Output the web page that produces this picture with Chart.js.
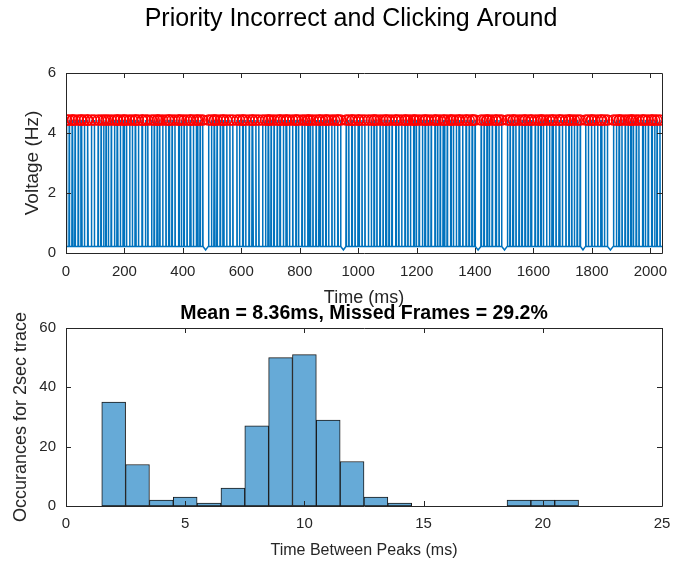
<!DOCTYPE html>
<html>
<head>
<meta charset="utf-8">
<script src="https://cdn.jsdelivr.net/npm/chart.js@4.4.1/dist/chart.umd.min.js"></script>
<style>
  body { margin: 0; background: #fff; }
  #wrap { position: relative; width: 674px; height: 568px; overflow: hidden; }
  canvas { position: absolute; left: 0; }
</style>
</head>
<body>
<div id="wrap">
  <canvas id="trace" width="702" height="310" style="top:0"></canvas>
  <canvas id="hist" width="728" height="278" style="top:290px"></canvas>
</div>
<script>
// peak-to-peak intervals (ms)
const firstPeak = 2;
const peakIntervals = [
    9,10,2,8,11,9,3,9,10,2,12,10, 13,
    10,9,8,8,10,11,9,2,9,10,3,8,11,9,10,2,9,12,2,10,8, 13,
    9,10,2,7,10,11,9,3,9,10,12,2,8,9,10,11,2,9,10,5,8,9, 20,
    10,9,2,8,11,9,3,10,11,10, 14,
    9,10,2,9,12,10,3,10,10, 13,
    10,9,2,8,10,11,9,2,10,9,3,9,11,10,2,8,12,9,10,2,7,9,11,10,4,9,10,2,8,11,9,10,2,9, 19,
    9,10,2,9,11,3,10,10, 12,
    10,9,2,8,11,10,9,3,9,10,12,2,9,10,11,2,8,9,10,3,7,10,11,9,2,9,10,12,2,8,9,10,5,9,11,2,8,10,9,3,10,11,2,9,10,2,8, 21,
    10,9,2,7,10,11,3,9,9, 20,
    9,10,2,8,11,10,9,2,10,9,3,12,10,9,2,7,11,10,9,3,10,11,2,9,12,10,2,8,9,10,10, 19,
    9,10,2,9,11,10,4,9,10, 21,
    10,9,2,8,11,10,9,3,6,10,9,12,2,8,10,11,2,9,8,10
];
const peakVoltage = 4.43;
const baseVoltage = 0.22;
const dipVoltage = 0.1;
const traceEnd = 2040;

const xTicksTop = [0, 200, 400, 600, 800, 1000, 1200, 1400, 1600, 1800, 2000];

// histogram
const binCenters = [2, 3, 4, 5, 6, 7, 8, 9, 10, 11, 12, 13, 14, 19, 20, 21];
const binCounts  = [35, 14, 2, 3, 1, 6, 27, 50, 51, 29, 15, 3, 1, 2, 2, 2];

const FONT = "'Liberation Sans', Arial, Helvetica, sans-serif";
const AXIS = '#262626';

// peak times + voltage trace
let peakTimes = [firstPeak];
for (let i = 0; i < peakIntervals.length; i++) {
    peakTimes.push(peakTimes[i] + peakIntervals[i]);
}
let trace = [{x: 0, y: baseVoltage}];
for (let i = 0; i < peakTimes.length; i++) {
    const t = peakTimes[i];
    trace.push({x: t - 1, y: baseVoltage});
    trace.push({x: t, y: peakVoltage});
    trace.push({x: t + 1, y: baseVoltage});
    const gap = peakIntervals[i];
    if (gap >= 15) trace.push({x: t + gap / 2, y: dipVoltage});
}
trace.push({x: traceEnd, y: baseVoltage});
const peaks = peakTimes.map(t => ({x: t, y: peakVoltage}));

// matlab style box with inward ticks
const boxPlugin = {
    id: 'box',
    afterDraw(chart) {
        const {ctx, chartArea: a, scales} = chart;
        const len = 5;
        ctx.save();
        ctx.strokeStyle = AXIS;
        ctx.lineWidth = 1;
        ctx.beginPath();
        ctx.rect(Math.round(a.left) + 0.5, Math.round(a.top) + 0.5,
                 Math.round(a.right - a.left), Math.round(a.bottom - a.top));
        scales.x.ticks.forEach(t => {
            const px = Math.round(scales.x.getPixelForValue(t.value)) + 0.5;
            ctx.moveTo(px, a.bottom); ctx.lineTo(px, a.bottom - len);
            ctx.moveTo(px, a.top); ctx.lineTo(px, a.top + len);
        });
        scales.y.ticks.forEach(t => {
            const py = Math.round(scales.y.getPixelForValue(t.value)) + 0.5;
            ctx.moveTo(a.left, py); ctx.lineTo(a.left + len, py);
            ctx.moveTo(a.right, py); ctx.lineTo(a.right - len, py);
        });
        ctx.stroke();
        ctx.restore();
    }
};

function dummyRight(w) {
    return {
        type: 'linear', position: 'right', display: true,
        ticks: {display: false}, grid: {display: false, drawTicks: false}, border: {display: false},
        afterFit: s => { s.width = w; }
    };
}

const noGrid = {display: false, drawTicks: false};

new Chart(document.getElementById('trace'), {
    type: 'line',
    data: {
        datasets: [{
            type: 'scatter',
            data: peaks,
            showLine: false,
            pointStyle: 'circle',
            pointRadius: 5,
            pointBorderColor: '#ff0000',
            pointBackgroundColor: 'rgba(0,0,0,0)',
            pointBorderWidth: 1.5,
            order: 0
        }, {
            data: trace,
            borderColor: '#0072BD',
            borderWidth: 1.5,
            pointRadius: 0,
            tension: 0,
            order: 1
        }]
    },
    options: {
        responsive: false,
        animation: false,
        layout: {padding: 0},
        plugins: {
            legend: {display: false},
            tooltip: {enabled: false},
            title: {
                display: true,
                text: 'Priority Incorrect and Clicking Around',
                color: '#000',
                font: {family: FONT, size: 25, weight: 'normal'},
                padding: {top: 4, bottom: 39}
            }
        },
        scales: {
            x: {
                type: 'linear', min: 0, max: traceEnd,
                afterBuildTicks: s => { s.ticks = xTicksTop.map(v => ({value: v})); },
                ticks: {font: {family: FONT, size: 15}, color: AXIS, padding: 10, maxRotation: 0, autoSkip: false,
                        callback: v => String(v)},
                grid: noGrid, border: {display: false},
                title: {display: true, text: 'Time (ms)', color: AXIS, font: {family: FONT, size: 18}, padding: {top: 0, bottom: 1.2}},
                afterFit: s => { s.height = 57; }
            },
            y: {
                type: 'linear', min: 0, max: 6,
                ticks: {stepSize: 2, font: {family: FONT, size: 15}, color: AXIS, padding: 10},
                grid: noGrid, border: {display: false},
                title: {display: true, text: 'Voltage (Hz)', color: AXIS, font: {family: FONT, size: 19}, padding: {top: 21.6, bottom: 0}},
                afterFit: s => { s.width = 66; }
            },
            yr: dummyRight(40)
        }
    },
    plugins: [boxPlugin]
});

new Chart(document.getElementById('hist'), {
    type: 'bar',
    data: {
        datasets: [{
            data: binCenters.map((c, i) => ({x: c, y: binCounts[i]})),
            backgroundColor: '#66AAD7',
            borderColor: '#1a1a1a',
            borderWidth: 1,
            borderSkipped: false,
            barPercentage: 1,
            categoryPercentage: 1
        }]
    },
    options: {
        responsive: false,
        animation: false,
        layout: {padding: 0},
        plugins: {
            legend: {display: false},
            tooltip: {enabled: false},
            title: {
                display: true,
                text: 'Mean = 8.36ms, Missed Frames = 29.2%',
                color: '#000',
                font: {family: FONT, size: 19.5, weight: 'bold'},
                padding: {top: 12, bottom: 2.6}
            }
        },
        scales: {
            x: {
                type: 'linear', min: 0, max: 25, offset: false,
                ticks: {stepSize: 5, font: {family: FONT, size: 15}, color: AXIS, padding: 9, maxRotation: 0},
                grid: noGrid, border: {display: false},
                title: {display: true, text: 'Time Between Peaks (ms)', color: AXIS, font: {family: FONT, size: 16}, padding: {top: 0, bottom: 7.4}},
                afterFit: s => { s.height = 62; }
            },
            y: {
                type: 'linear', min: 0, max: 60,
                ticks: {stepSize: 20, font: {family: FONT, size: 15}, color: AXIS, padding: 10},
                grid: noGrid, border: {display: false},
                title: {display: true, text: 'Occurances for 2sec trace', color: AXIS, font: {family: FONT, size: 18}, padding: {top: 10.2, bottom: 0}},
                afterFit: s => { s.width = 66; }
            },
            yr: dummyRight(66)
        }
    },
    plugins: [boxPlugin]
});
</script>
</body>
</html>
